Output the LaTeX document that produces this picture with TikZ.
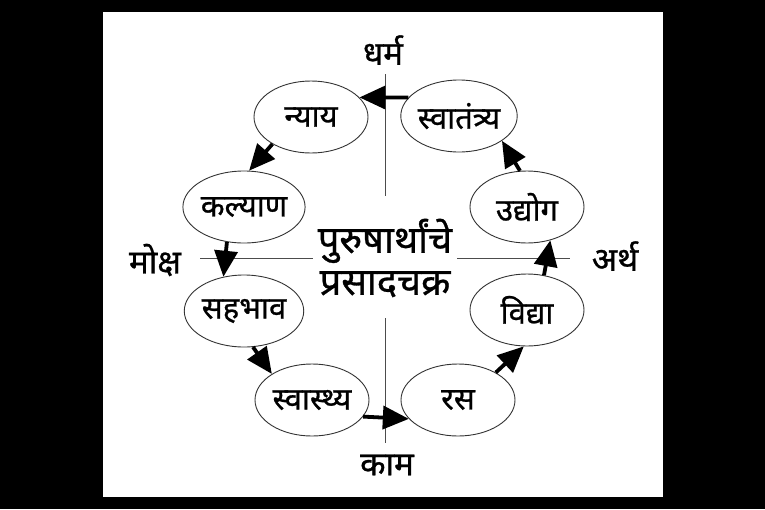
\documentclass[tikz,border=0pt]{standalone}
\usepackage{fontspec}
\newfontfamily\deva[Script=Devanagari,FakeBold=0.8]{Noto Sans}
\usetikzlibrary{arrows.meta,shapes.geometric}
\newcommand{\gt}{\fontsize{31}{34}\selectfont\deva}
\newcommand{\dt}{\fontsize{33}{38}\selectfont\deva}
\newcommand{\mt}{\fontsize{38}{42}\selectfont\deva}

\begin{document}
\begin{tikzpicture}[x=1pt,y=-1pt,
  gol/.style={draw=black!80,line width=0.9pt,ellipse,fill=white,
              minimum width=114pt,minimum height=72pt,inner sep=0pt,font=\gt},
  bana/.style={line width=3.8pt,-{Triangle[length=26pt,width=23pt]}},
  aks/.style={draw=black!70,line width=0.8pt}]
  \fill[black] (  0,  0) rectangle (765,509);
  \fill[white] (103, 12) rectangle (663,497);
  \useasboundingbox (0,0) rectangle (765,509);
  \coordinate (vt1) at (385, 74);
  \coordinate (vt2) at (385,196);
  \coordinate (vb1) at (385,318);
  \coordinate (vb2) at (385,443);
  \coordinate (hl1) at (200,258);
  \coordinate (hl2) at (313,258);
  \coordinate (hr1) at (457,258);
  \coordinate (hr2) at (570,258);
  \draw[aks] (vt1) -- (vt2);
  \draw[aks] (vb1) -- (vb2);
  \draw[aks] (hl1) -- (hl2);
  \draw[aks] (hr1) -- (hr2);
  \node[font=\dt] (dharma) at (383, 50) {धर्म};
  \node[font=\dt] (kama)   at (387,465) {काम};
  \node[font=\dt] (moksha) at (155,260) {मोक्ष};
  \node[font=\dt] (artha)  at (615,256) {अर्थ};
  \node[font=\mt,align=center] (chakra) at (385,258) {पुरुषार्थांचे\\प्रसादचक्र};
  \node[gol] (nyay)     at (311,117) {न्याय};
  \node[gol] (svatantr) at (459,116) {स्वातंत्र्य};
  \node[gol] (kalyan)   at (244,207) {कल्याण};
  \node[gol] (udyog)    at (527,207) {उद्योग};
  \node[gol] (sahabhav) at (244,311) {सहभाव};
  \node[gol] (vidya)    at (527,310) {विद्या};
  \node[gol] (svasthya) at (312,400) {स्वास्थ्य};
  \node[gol] (ras)      at (458,400) {रस};
  \draw[bana] (svatantr.160) -- (nyay.22);
  \draw[bana] (nyay.215)     -- (kalyan.82);
  \draw[bana] (kalyan.244)   -- (sahabhav.121);
  \draw[bana] (sahabhav.284) -- (svasthya.147);
  \draw[bana] (svasthya.342) -- (ras.201);
  \draw[bana] (ras.36)       -- (vidya.265);
  \draw[bana] (vidya.64)     -- (udyog.305);
  \draw[bana] (udyog.101)    -- (svatantr.330);
\end{tikzpicture}
\end{document}
